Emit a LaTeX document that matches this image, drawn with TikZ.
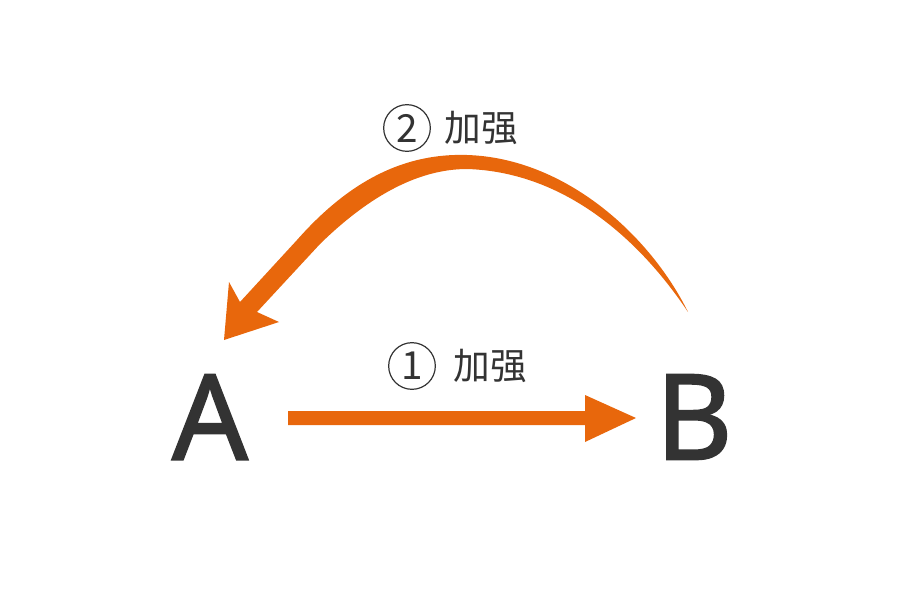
\documentclass[tikz,border=0pt]{standalone}
\usepackage{fontspec}
\setmainfont{Noto Sans}
\newfontfamily\boldish[FakeBold=1.6]{Noto Sans}
\newfontfamily\cjk{Noto Sans CJK SC}
\definecolor{arroworange}{HTML}{E8670C}
\definecolor{textgray}{HTML}{333333}
\begin{document}
\begin{tikzpicture}[x=0.75pt,y=-0.75pt]
\tikzset{
  letter/.style={text=textgray, font=\boldish\fontsize{89}{89}\selectfont, inner sep=0pt},
  lbl/.style={text=textgray, font=\cjk\fontsize{27.5}{27.5}\selectfont, inner sep=0pt},
  numcircle/.style={circle, draw=textgray, line width=0.9pt, minimum size=35pt, inner sep=0pt,
    text=textgray, font=\cjk\fontsize{29}{29}\selectfont}
}
\useasboundingbox (0,0) rectangle (899,600);
\node[letter] (A) at (210,417) {A};
\node[letter] (B) at (694,417) {B};
\node[numcircle] (c1) at (412,366) {1};
\node[lbl] (l1) at (490,366) {加强};
\node[numcircle] (c2) at (407,128) {2};
\node[lbl] (l2) at (481,128) {加强};
% straight arrow A -> B
\fill[arroworange] (288,411) -- (585,411) -- (585,395) -- (636,418) -- (585,442) -- (585,425) -- (288,425) -- cycle;
% curved swoosh arrow B -> A
\fill[arroworange]
  (224,340) -- (229,282) -- (240,302)
  -- (297,240) .. controls (350,180) and (405,153) .. (467,155)
  .. controls (565,158) and (650,235) .. (688,312)
  .. controls (640,240) and (565,172) .. (467,169)
  .. controls (415,169) and (365,200) .. (320,244)
  -- (257,312) -- (279,322) -- cycle;
\end{tikzpicture}
\end{document}
